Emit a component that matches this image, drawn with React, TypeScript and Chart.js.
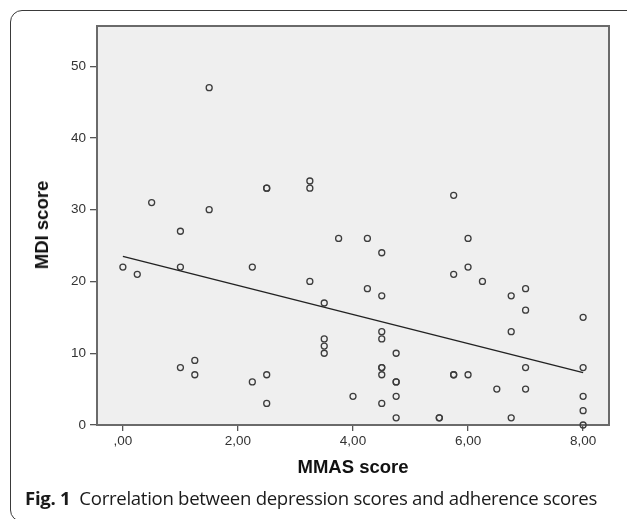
import React, { useEffect, useRef } from "react";
import { Chart, registerables } from "chart.js";

Chart.register(...registerables);

// MMAS score (x) and MDI score (y) for each respondent
const mmasScores = [
  0, 0.25, 0.5, 1, 1, 1, 1.25, 1.25, 1.5, 1.5,
  2.25, 2.25, 2.5, 2.5, 2.5, 2.5, 3.25, 3.25, 3.25, 3.5,
  3.5, 3.5, 3.5, 3.75, 4, 4.25, 4.25, 4.5, 4.5, 4.5,
  4.5, 4.5, 4.5, 4.5, 4.5, 4.75, 4.75, 4.75, 4.75, 4.75,
  5.5, 5.5, 5.75, 5.75, 5.75, 5.75, 6, 6, 6, 6.25,
  6.5, 6.75, 6.75, 6.75, 7, 7, 7, 7, 8, 8,
  8, 8, 8,
];
const mdiScores = [
  22, 21, 31, 27, 22, 8, 9, 7, 47, 30,
  22, 6, 33, 33, 7, 3, 34, 33, 20, 17,
  12, 11, 10, 26, 4, 26, 19, 24, 18, 13,
  12, 8, 8, 7, 3, 10, 6, 6, 4, 1,
  1, 1, 32, 21, 7, 7, 26, 22, 7, 20,
  5, 18, 13, 1, 19, 16, 8, 5, 15, 8,
  4, 2, 0,
];

// Fitted regression line end points
const fitX = [0, 8];
const fitY = [23.5, 7.3];

// Axis ticks
const xTickValues = [0, 2, 4, 6, 8];
const xTickLabels = [",00", "2,00", "4,00", "6,00", "8,00"];
const yTickValues = [0, 10, 20, 30, 40, 50];
const yTickLabels = ["0", "10", "20", "30", "40", "50"];

const W = 627;
const H = 519;

const framePlugin = {
  id: "frame",
  beforeDraw(chart: any) {
    const { ctx, chartArea } = chart;
    ctx.save();
    ctx.fillStyle = "#efefef";
    ctx.fillRect(chartArea.left, chartArea.top, chartArea.right - chartArea.left, chartArea.bottom - chartArea.top);
    ctx.restore();
  },
  beforeDatasetsDraw(chart: any) {
    const { ctx, chartArea } = chart;
    ctx.save();
    ctx.strokeStyle = "#6a6a6a";
    ctx.lineWidth = 2;
    ctx.strokeRect(chartArea.left, chartArea.top, chartArea.right - chartArea.left, chartArea.bottom - chartArea.top);
    ctx.restore();
  },
};

export default function App() {
  const ref = useRef<HTMLCanvasElement | null>(null);

  useEffect(() => {
    document.body.style.margin = "0";
    const canvas = ref.current!;
    const points = mmasScores.map((x, i) => ({ x, y: mdiScores[i] }));
    const line = fitX.map((x, i) => ({ x, y: fitY[i] }));
    const tickFont = { family: "'Liberation Sans', Arial, sans-serif", size: 13.5 };
    const chart = new Chart(canvas, {
      type: "scatter",
      data: {
        datasets: [
          {
            type: "line",
            data: line,
            borderColor: "#222222",
            borderWidth: 1.5,
            pointRadius: 0,
            showLine: true,
            fill: false,
          } as any,
          {
            data: points,
            pointStyle: "circle",
            pointRadius: 3,
            pointBorderWidth: 1.3,
            borderColor: "#3c3c3c",
            backgroundColor: "rgba(0,0,0,0)",
            clip: false,
          } as any,
        ],
      },
      options: {
        animation: false,
        responsive: false,
        devicePixelRatio: 1,
        layout: { padding: { left: 0, top: 26, right: 18, bottom: 64 } },
        plugins: { legend: { display: false }, tooltip: { enabled: false }, title: { display: false } },
        scales: {
          x: {
            type: "linear",
            min: -0.45,
            max: 8.45,
            afterBuildTicks: (s: any) => {
              s.ticks = xTickValues.map((v) => ({ value: v }));
            },
            afterFit: (s: any) => {
              s.height = 30;
            },
            ticks: {
              color: "#333333",
              font: tickFont,
              padding: 2,
              maxRotation: 0,
              autoSkip: false,
              callback: (v: any) => xTickLabels[xTickValues.indexOf(Number(v))] ?? "",
            },
            grid: { drawOnChartArea: false, drawTicks: true, tickLength: 6, color: "#555555", lineWidth: 1.3 },
            border: { display: false },
          },
          y: {
            type: "linear",
            min: 0,
            max: 55.6,
            afterBuildTicks: (s: any) => {
              s.ticks = yTickValues.map((v) => ({ value: v }));
            },
            afterFit: (s: any) => {
              s.width = 97;
            },
            ticks: {
              color: "#333333",
              font: tickFont,
              padding: 4,
              autoSkip: false,
              callback: (v: any) => yTickLabels[yTickValues.indexOf(Number(v))] ?? "",
            },
            grid: { drawOnChartArea: false, drawTicks: true, tickLength: 7, color: "#555555", lineWidth: 1.3 },
            border: { display: false },
          },
        },
      },
      plugins: [framePlugin],
    });
    return () => chart.destroy();
  }, []);

  return (
    <div
      style={{
        position: "fixed",
        left: 0,
        top: 0,
        width: W,
        height: H,
        overflow: "hidden",
        background: "#ffffff",
      }}
    >
      <div
        style={{
          position: "absolute",
          left: 10,
          top: 10,
          width: 660,
          height: 512,
          border: "1px solid #3a3a3a",
          borderRadius: 12,
          boxSizing: "border-box",
        }}
      />
      <canvas ref={ref} width={W} height={H} style={{ position: "absolute", left: 0, top: 0, width: W, height: H }} />
      <div
        style={{
          position: "absolute",
          left: 42,
          top: 225,
          transform: "translate(-50%, -50%) rotate(-90deg)",
          fontFamily: "'Liberation Sans', Arial, sans-serif",
          fontWeight: "bold",
          fontSize: 18.5,
          color: "#111",
          whiteSpace: "nowrap",
        }}
      >
        MDI score
      </div>
      <div
        style={{
          position: "absolute",
          left: 353,
          top: 467,
          transform: "translate(-50%, -50%)",
          fontFamily: "'Liberation Sans', Arial, sans-serif",
          fontWeight: "bold",
          fontSize: 18.5,
          color: "#111",
          whiteSpace: "nowrap",
        }}
      >
        MMAS score
      </div>
      <div
        style={{
          position: "absolute",
          left: 25,
          top: 497,
          transform: "translateY(-50%)",
          fontFamily: "'Open Sans', 'Noto Sans', sans-serif",
          fontSize: 18.6,
          color: "#1a1a1a",
          whiteSpace: "nowrap",
          letterSpacing: -0.3,
        }}
      >
        <span style={{ fontWeight: "bold" }}>Fig. 1</span>
        {"\u2002Correlation between depression scores and adherence scores"}
      </div>
    </div>
  );
}
